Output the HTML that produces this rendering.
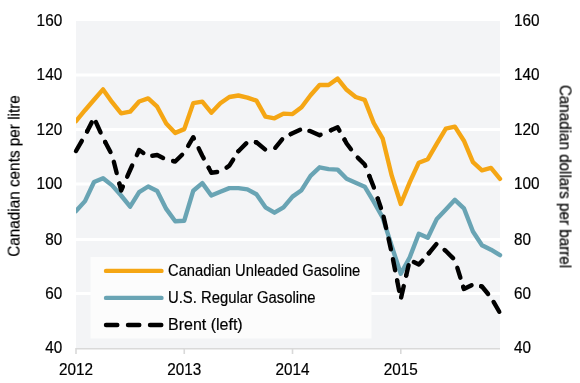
<!DOCTYPE html>
<html><head><meta charset="utf-8"><style>
html,body{margin:0;padding:0;background:#fff;width:580px;height:383px;overflow:hidden}
svg{display:block}
text{font-family:"Liberation Sans",sans-serif;font-size:16px;fill:#000000;stroke:#000000;stroke-width:0.2px;will-change:transform}
text.n{font-size:15.9px}
</style></head><body>
<svg width="580" height="383" viewBox="0 0 580 383">
<rect x="76" y="21" width="424" height="327" fill="#f3f4f6"/>
<g stroke="#ffffff" stroke-width="3.0"><line x1="76" x2="500" y1="75.0" y2="75.0"/><line x1="76" x2="500" y1="129.5" y2="129.5"/><line x1="76" x2="500" y1="184.0" y2="184.0"/><line x1="76" x2="500" y1="239.5" y2="239.5"/><line x1="76" x2="500" y1="293.5" y2="293.5"/></g>
<rect x="90.5" y="257" width="281" height="81.5" fill="#fcfcfc"/>
<g stroke="#d9d9d9" stroke-width="1.6"><line x1="76" x2="500" y1="348.8" y2="348.8"/><line x1="76.00" x2="76.00" y1="348" y2="354"/><line x1="184.26" x2="184.26" y1="348" y2="354"/><line x1="292.51" x2="292.51" y1="348" y2="354"/><line x1="400.77" x2="400.77" y1="348" y2="354"/></g>
<defs><clipPath id="pc"><rect x="76" y="0" width="504" height="383"/></clipPath></defs>
<g fill="none" stroke-width="4.4" stroke-linejoin="round" stroke-linecap="round" clip-path="url(#pc)">
<polyline points="76.00,121.20 85.02,110.20 94.04,99.70 103.06,89.40 112.09,102.20 121.11,113.40 130.13,111.70 139.15,101.50 148.17,98.40 157.19,106.70 166.21,123.50 175.23,132.90 184.26,129.10 193.28,103.10 202.30,101.70 211.32,112.70 220.34,103.30 229.36,97.00 238.38,95.50 247.40,97.70 256.43,100.60 265.45,116.70 274.47,118.30 283.49,113.60 292.51,114.10 301.53,107.30 310.55,95.20 319.57,85.00 328.60,85.00 337.62,78.60 346.64,89.80 355.66,97.00 364.68,99.90 373.70,123.00 382.72,138.70 391.74,175.70 400.77,204.00 409.79,182.20 418.81,162.70 427.83,159.20 436.85,143.70 445.87,128.60 454.89,126.60 463.91,140.70 472.94,162.20 481.96,170.30 490.98,167.90 500.00,178.90" stroke="#f5a614"/>
<polyline points="76.00,211.10 85.02,201.10 94.04,182.00 103.06,178.20 112.09,185.40 121.11,195.50 130.13,206.70 139.15,192.10 148.17,186.50 157.19,191.00 166.21,208.90 175.23,221.20 184.26,220.70 193.28,190.70 202.30,183.10 211.32,195.50 220.34,191.70 229.36,188.10 238.38,188.10 247.40,189.40 256.43,194.30 265.45,207.30 274.47,212.70 283.49,207.30 292.51,196.60 301.53,190.20 310.55,175.80 319.57,167.30 328.60,169.10 337.62,169.60 346.64,178.80 355.66,182.70 364.68,186.70 373.70,201.70 382.72,217.70 391.74,246.20 400.77,273.70 409.79,257.20 418.81,233.70 427.83,237.70 436.85,218.90 445.87,209.50 454.89,199.80 463.91,208.30 472.94,231.50 481.96,245.20 490.98,249.70 500.00,255.20" stroke="#69a4b4"/>
</g>
<g fill="none" stroke-width="4.4" stroke-linejoin="round" stroke-linecap="round" stroke="#000000">
<path d="M76.00,151.00 L85.02,135.40 L87.08,131.42" stroke-dasharray="11.66 10.84"/>
<path d="M87.08,131.42 L94.04,118.00 L95.90,122.12" stroke-dasharray="10.18 9.46"/>
<path d="M95.90,122.12 L103.06,138.00 L105.17,141.96" stroke-dasharray="11.35 10.55"/>
<path d="M105.17,141.96 L112.09,155.00 L113.82,161.82" stroke-dasharray="11.30 10.50"/>
<path d="M113.82,161.82 L119.34,183.54" stroke-dasharray="11.61 10.79"/>
<path d="M119.34,183.54 L121.11,190.50 L127.19,176.68" stroke-dasharray="11.55 10.73"/>
<path d="M127.19,176.68 L130.13,170.00 L136.85,155.10" stroke-dasharray="12.26 11.39"/>
<path d="M136.85,155.10 L139.15,150.00 L148.17,156.30 L152.27,155.71" stroke-dasharray="10.75 9.99"/>
<path d="M152.27,155.71 L157.19,155.00 L166.21,159.50 L173.27,161.07" stroke-dasharray="11.55 10.73"/>
<path d="M173.27,161.07 L175.23,161.50 L184.26,152.70 L188.17,145.97" stroke-dasharray="11.61 10.79"/>
<path d="M188.17,145.97 L193.28,137.20 L198.63,148.18" stroke-dasharray="11.60 10.78"/>
<path d="M198.63,148.18 L202.30,155.70 L208.70,167.76" stroke-dasharray="11.41 10.60"/>
<path d="M208.70,167.76 L211.32,172.70 L220.34,171.70 L226.55,167.57" stroke-dasharray="11.47 10.66"/>
<path d="M226.55,167.57 L229.36,165.70 L238.38,151.20" stroke-dasharray="10.60 9.85"/>
<path d="M238.38,151.20 L247.40,142.20 L255.90,142.20" stroke-dasharray="11.01 10.23"/>
<path d="M255.90,142.20 L256.43,142.20 L265.45,149.70 L274.47,148.70 L275.23,147.78" stroke-dasharray="11.68 10.85"/>
<path d="M275.23,147.78 L283.49,137.70 L290.70,134.10" stroke-dasharray="10.93 10.16"/>
<path d="M290.70,134.10 L292.51,133.20 L301.53,129.20 L309.38,130.94" stroke-dasharray="10.33 9.60"/>
<path d="M309.38,130.94 L310.55,131.20 L319.57,135.20 L328.60,131.20 L330.94,130.16" stroke-dasharray="12.18 11.32"/>
<path d="M330.94,130.16 L337.62,127.20 L344.52,139.67" stroke-dasharray="11.17 10.38"/>
<path d="M344.52,139.67 L346.64,143.50 L355.66,155.50 L357.73,157.57" stroke-dasharray="11.57 10.75"/>
<path d="M357.73,157.57 L364.68,164.50 L369.27,175.93" stroke-dasharray="11.47 10.66"/>
<path d="M369.27,175.93 L373.70,187.00 L377.72,198.58" stroke-dasharray="12.53 11.64"/>
<path d="M377.72,198.58 L382.72,213.00 L383.57,216.74" stroke-dasharray="9.90 9.20"/>
<path d="M383.57,216.74 L388.49,238.59" stroke-dasharray="11.61 10.79"/>
<path d="M388.49,238.59 L391.74,253.00 L392.96,259.21" stroke-dasharray="10.94 10.17"/>
<path d="M392.96,259.21 L397.13,280.48" stroke-dasharray="11.23 10.44"/>
<path d="M397.13,280.48 L400.77,299.00 L401.14,297.39" stroke-dasharray="10.64 9.89"/>
<path d="M401.14,297.39 L406.19,275.54" stroke-dasharray="11.62 10.80"/>
<path d="M406.19,275.54 L409.79,260.00 L413.84,262.02" stroke-dasharray="10.62 9.87"/>
<path d="M413.84,262.02 L418.81,264.50 L427.83,254.50 L428.87,253.23" stroke-dasharray="10.71 9.95"/>
<path d="M428.87,253.23 L436.85,243.50 L444.65,249.98" stroke-dasharray="11.78 10.95"/>
<path d="M444.65,249.98 L445.87,251.00 L454.89,260.00 L457.33,267.82" stroke-dasharray="11.68 10.85"/>
<path d="M457.33,267.82 L463.25,286.86" stroke-dasharray="10.33 9.60"/>
<path d="M463.25,286.86 L463.91,289.00 L472.94,284.50 L481.21,286.34" stroke-dasharray="10.78 10.02"/>
<path d="M481.21,286.34 L481.96,286.50 L490.98,297.50 L493.59,301.98" stroke-dasharray="10.46 9.72"/>
<path d="M493.59,301.98 L500.00,313.00" stroke-dasharray="11.30 10.50"/>
</g>
<g fill="none" stroke-width="4.4" stroke-linejoin="round" stroke-linecap="round">
<line x1="106" x2="161.5" y1="270.9" y2="270.9" stroke="#f5a614"/>
<line x1="106" x2="161.5" y1="297.9" y2="297.9" stroke="#69a4b4"/>
<path d="M106,325 h11.3 M128,325 h11.3 M150,325 h11.3" stroke="#000000"/>
</g>
<text x="62.2" y="26.00" class="n" text-anchor="end" textLength="25.6" lengthAdjust="spacingAndGlyphs">160</text>
<text x="62.2" y="80.00" class="n" text-anchor="end" textLength="25.6" lengthAdjust="spacingAndGlyphs">140</text>
<text x="62.2" y="134.50" class="n" text-anchor="end" textLength="25.6" lengthAdjust="spacingAndGlyphs">120</text>
<text x="62.2" y="189.00" class="n" text-anchor="end" textLength="25.6" lengthAdjust="spacingAndGlyphs">100</text>
<text x="62.2" y="244.50" class="n" text-anchor="end" textLength="17.0" lengthAdjust="spacingAndGlyphs">80</text>
<text x="62.2" y="298.50" class="n" text-anchor="end" textLength="17.0" lengthAdjust="spacingAndGlyphs">60</text>
<text x="62.2" y="353.00" class="n" text-anchor="end" textLength="17.0" lengthAdjust="spacingAndGlyphs">40</text>
<text x="514" y="26.00" class="n" textLength="25.6" lengthAdjust="spacingAndGlyphs">160</text>
<text x="514" y="80.00" class="n" textLength="25.6" lengthAdjust="spacingAndGlyphs">140</text>
<text x="514" y="134.50" class="n" textLength="25.6" lengthAdjust="spacingAndGlyphs">120</text>
<text x="514" y="189.00" class="n" textLength="25.6" lengthAdjust="spacingAndGlyphs">100</text>
<text x="514" y="244.50" class="n" textLength="17.0" lengthAdjust="spacingAndGlyphs">80</text>
<text x="514" y="298.50" class="n" textLength="17.0" lengthAdjust="spacingAndGlyphs">60</text>
<text x="514" y="353.00" class="n" textLength="17.0" lengthAdjust="spacingAndGlyphs">40</text>
<text x="76.00" y="374.5" class="n" text-anchor="middle" textLength="34.0" lengthAdjust="spacingAndGlyphs">2012</text>
<text x="184.26" y="374.5" class="n" text-anchor="middle" textLength="34.0" lengthAdjust="spacingAndGlyphs">2013</text>
<text x="292.51" y="374.5" class="n" text-anchor="middle" textLength="34.0" lengthAdjust="spacingAndGlyphs">2014</text>
<text x="400.77" y="374.5" class="n" text-anchor="middle" textLength="34.0" lengthAdjust="spacingAndGlyphs">2015</text>
<text x="168" y="276" textLength="192.3" lengthAdjust="spacingAndGlyphs">Canadian Unleaded Gasoline</text>
<text x="168" y="303.1" textLength="147.5" lengthAdjust="spacingAndGlyphs">U.S. Regular Gasoline</text>
<text x="168" y="330">Brent (left)</text>
<text transform="translate(19.6,176) rotate(-90)" text-anchor="middle" textLength="161.6" lengthAdjust="spacingAndGlyphs">Canadian cents per litre</text>
<text transform="translate(559.6,176.5) rotate(90)" text-anchor="middle" textLength="183.2" lengthAdjust="spacingAndGlyphs">Canadian dollars per barrel</text>
</svg>
</body></html>
